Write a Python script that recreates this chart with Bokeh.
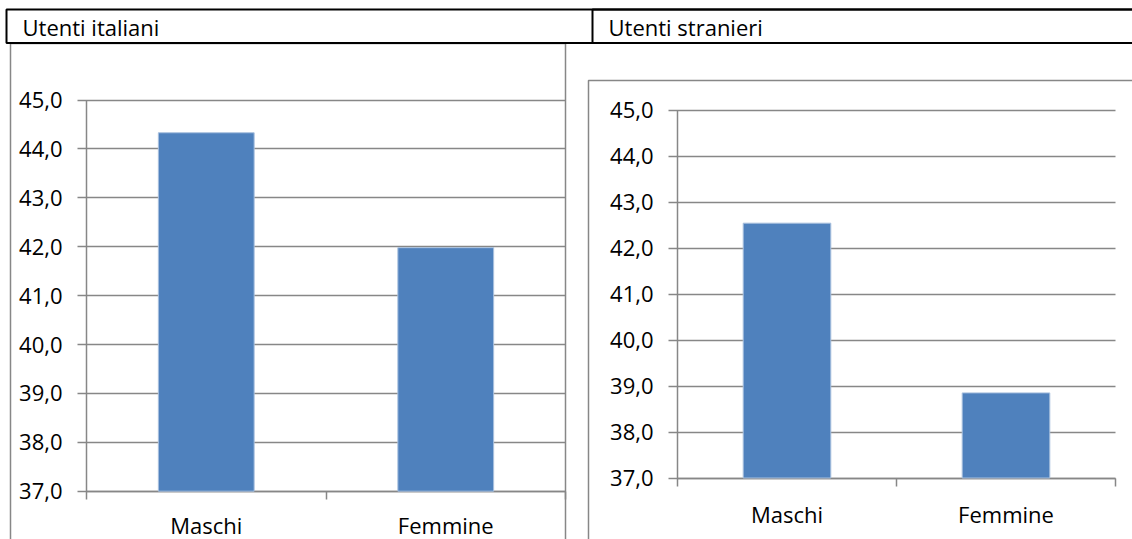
from bokeh.plotting import figure
from bokeh.models import Range1d, FixedTicker, BoxAnnotation, Label, LinearAxis
from bokeh.embed import file_html
from bokeh.resources import INLINE

# ---- data -------------------------------------------------------------
categories = ["Maschi", "Femmine"]
italiani = [44.33, 41.98]
stranieri = [42.54, 38.85]
y_ticks = [37, 38, 39, 40, 41, 42, 43, 44, 45]
y_tick_labels = ["37,0", "38,0", "39,0", "40,0", "41,0", "42,0", "43,0", "44,0", "45,0"]
panel_titles = ["Utenti italiani", "Utenti stranieri"]

# ---- style / layout ---------------------------------------------------
FONT = "Open Sans"
FS = "22px"
GRID = "#878787"
BAR = "#4F81BD"
BAR_EDGE = "#A9C0DE"
W, H = 1132, 539

# plot-area geometry in canvas pixels (x from left, y from top)
LEFT = dict(ax_x=86, right_x=565, top_y=99.5, bot_y=490.7, cat_standoff=11)
RIGHT = dict(ax_x=677, right_x=1115, top_y=109.5, bot_y=477.5, cat_standoff=13)

n = len(categories)
ymin, ymax = y_ticks[0], y_ticks[-1]
xs = [i + 0.5 for i in range(n)]


def ranges(g):
    ppx = (g["right_x"] - g["ax_x"]) / n
    ppy = (g["bot_y"] - g["top_y"]) / (ymax - ymin)
    xr = Range1d(-g["ax_x"] / ppx, n + (W - g["right_x"]) / ppx)
    yr = Range1d(ymin - (H - g["bot_y"]) / ppy, ymax + g["top_y"] / ppy)
    return xr, yr


lx, ly = ranges(LEFT)
rx, ry = ranges(RIGHT)

p = figure(width=W, height=H, x_range=lx, y_range=ly,
           x_axis_type=None, y_axis_type=None, min_border=0,
           output_backend="svg", toolbar_location=None)
p.extra_x_ranges = {"rx": rx}
p.extra_y_ranges = {"ry": ry}
p.outline_line_color = None
p.background_fill_color = "white"
p.border_fill_color = "white"


def add_chart(values, g, xname, yname):
    plot_w = int(round(g["right_x"] - g["ax_x"]))
    yax = LinearAxis(fixed_location=0, bounds=(ymin, ymax),
                     x_range_name=xname, y_range_name=yname,
                     ticker=FixedTicker(ticks=y_ticks),
                     major_label_overrides=dict(zip(y_ticks, y_tick_labels)),
                     major_tick_out=9, major_tick_in=plot_w,
                     major_tick_line_color=GRID, major_tick_line_width=1.5,
                     minor_tick_line_color=None,
                     axis_line_color=GRID, axis_line_width=1.5,
                     major_label_text_font=FONT, major_label_text_font_size=FS,
                     major_label_text_color="black", major_label_standoff=15,
                     level="underlay")
    p.add_layout(yax, "left")

    xax = LinearAxis(fixed_location=ymin, bounds=(0, n),
                     x_range_name=xname, y_range_name=yname,
                     ticker=FixedTicker(ticks=xs, minor_ticks=list(range(n + 1))),
                     major_label_overrides=dict(zip(xs, categories)),
                     major_tick_line_color=None, major_tick_out=0, major_tick_in=0,
                     minor_tick_out=8, minor_tick_in=0,
                     minor_tick_line_color=GRID, minor_tick_line_width=1.5,
                     axis_line_color=GRID, axis_line_width=1.5,
                     major_label_text_font=FONT, major_label_text_font_size=FS,
                     major_label_text_color="black",
                     major_label_standoff=g["cat_standoff"],
                     level="underlay")
    p.add_layout(xax, "below")

    p.vbar(x=xs, top=values, bottom=ymin, width=0.4,
           fill_color=BAR, line_color=BAR_EDGE, line_width=1,
           x_range_name=xname, y_range_name=yname)


add_chart(italiani, LEFT, "default", "default")
add_chart(stranieri, RIGHT, "rx", "ry")


def box(left, right, top, bottom, color, width):
    return BoxAnnotation(left=left, right=right, top=top, bottom=bottom,
                         left_units="canvas", right_units="canvas",
                         top_units="canvas", bottom_units="canvas",
                         fill_color=None, fill_alpha=0,
                         line_color=color, line_alpha=1.0, line_width=width,
                         level="overlay")


# chart frames (grey) and header table (black)
p.add_layout(box(10, 565, 43, 900, GRID, 1.5))
p.add_layout(box(588, 1400, 80, 900, GRID, 1.5))
p.add_layout(box(6, 1400, 9, 42.5, "black", 2))
p.add_layout(box(592, 1400, 9, 42.5, "black", 2))

for title, tx in zip(panel_titles, [22, 608]):
    p.add_layout(Label(x=tx, y=26, x_units="canvas", y_units="canvas",
                       text=title, text_font=FONT, text_font_size=FS,
                       text_color="black", text_baseline="alphabetic"))

open("out.html", "w").write(file_html(p, INLINE))
